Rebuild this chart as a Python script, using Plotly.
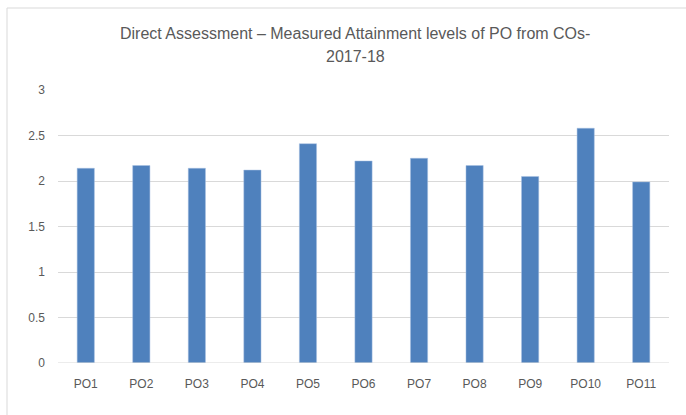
import plotly.graph_objects as go

categories = ["PO1", "PO2", "PO3", "PO4", "PO5", "PO6", "PO7", "PO8", "PO9", "PO10", "PO11"]
attainment = [2.14, 2.17, 2.14, 2.12, 2.41, 2.22, 2.25, 2.17, 2.05, 2.58, 1.99]
y_ticks = [0, 0.5, 1, 1.5, 2, 2.5, 3]
y_tick_labels = ["0", "0.5", "1", "1.5", "2", "2.5", "3"]
title_lines = ["Direct Assessment – Measured Attainment levels of PO from COs-", "2017-18"]

TEXT = "#595959"
GRID = "#D9D9D9"
FONT = "Liberation Sans, Arial, sans-serif"

# plot area in pixels: x 58..669, y 90..363
L, R, T, B = 58, 669, 90, 363
W, H = 686, 415

def px_x(px):
    return (px - L) / (R - L)

def px_y(py):
    return (B - py) / (B - T)

fig = go.Figure()
fig.add_trace(go.Bar(
    x=categories, y=attainment,
    marker=dict(color="#4F81BD", line=dict(width=0.5, color="#A9C1E3")),
    hoverinfo="x+y",
))

# chart frame: only the left and top edges fall inside the picture
fig.add_shape(type="rect", xref="paper", yref="paper",
              x0=px_x(7), x1=px_x(700), y0=px_y(430), y1=px_y(8),
              line=dict(color=GRID, width=1), layer="below")
fig.add_shape(type="line", xref="paper", yref="y", x0=0, x1=1, y0=0, y1=0,
              line=dict(color=GRID, width=1))

for txt, cy in zip(title_lines, [33, 57]):
    fig.add_annotation(text=txt, xref="paper", yref="paper",
                       x=px_x(355), y=px_y(cy), xanchor="center", yanchor="middle",
                       showarrow=False, font=dict(size=16, color=TEXT, family=FONT))

fig.update_layout(
    width=W, height=H,
    margin=dict(l=L, r=W - R, t=T, b=H - B),
    paper_bgcolor="white", plot_bgcolor="white",
    showlegend=False,
    bargap=0.69,
    font=dict(family=FONT, color=TEXT, size=12),
    xaxis=dict(showgrid=False, zeroline=False, showline=False, ticks="",
               tickfont=dict(size=12, color=TEXT), ticklabelstandoff=12),
    yaxis=dict(range=[0, 3], tickvals=y_ticks, ticktext=y_tick_labels,
               showgrid=True, gridcolor=GRID, gridwidth=1, zeroline=False,
               showline=False, ticks="", tickfont=dict(size=12, color=TEXT),
               ticklabelstandoff=12),
)

fig.write_html("out.html", config={"displayModeBar": False},
               post_script="document.body.style.margin='0';")
